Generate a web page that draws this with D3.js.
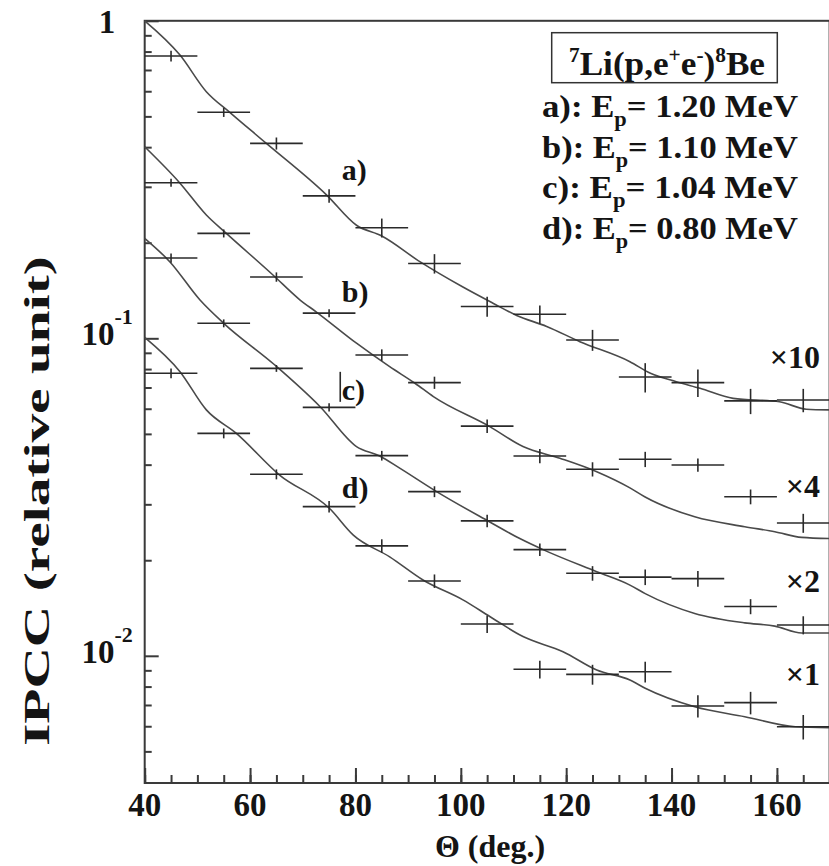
<!DOCTYPE html>
<html>
<head>
<meta charset="utf-8">
<script src="https://cdn.jsdelivr.net/npm/d3@7"></script>
<style>
  html, body { margin: 0; padding: 0; background: #fff; }
  svg { display: block; }
  text { font-family: "Liberation Serif", "Times New Roman", serif; font-weight: bold; fill: #141414; }
</style>
</head>
<body>
<svg id="chart" width="829" height="866"></svg>
<script>
// Bin centres (deg.) and half-width of each angular bin
const theta = [45, 55, 65, 75, 85, 95, 105, 115, 125, 135, 145, 155, 165];
const binHalfWidth = 5;

// Measured IPCC (relative unit), already multiplied by x10, x4, x2, x1
const ipccA = [0.775, 0.515, 0.411, 0.281, 0.223, 0.172, 0.126, 0.119, 0.0988, 0.0755, 0.0725, 0.0635, 0.0639];
const errA  = [0.030, 0.017, 0.018, 0.0136, 0.0153, 0.0121, 0.0091, 0.0078, 0.0075, 0.0080, 0.0072, 0.0058, 0.0054];
const ipccB = [0.309, 0.214, 0.156, 0.120, 0.0886, 0.0725, 0.0529, 0.0426, 0.0387, 0.0416, 0.0399, 0.0317, 0.0262];
const errB  = [0.0090, 0.0062, 0.0053, 0.0035, 0.0037, 0.0032, 0.0026, 0.0022, 0.0020, 0.0023, 0.0019, 0.0017, 0.0018];
const ipccC = [0.179, 0.1115, 0.0804, 0.0606, 0.0427, 0.0329, 0.0266, 0.0216, 0.0182, 0.0177, 0.0175, 0.0143, 0.0125];
const errC  = [0.0059, 0.0032, 0.0020, 0.0018, 0.0015, 0.0013, 0.0012, 0.00099, 0.00096, 0.0010, 0.0010, 0.00078, 0.00082];
const ipccD = [0.0776, 0.0502, 0.0373, 0.0295, 0.0222, 0.0172, 0.0126, 0.00907, 0.00874, 0.00891, 0.00695, 0.00712, 0.00598];
const errD  = [0.0028, 0.0018, 0.00135, 0.00124, 0.00108, 0.00084, 0.00080, 0.00058, 0.00063, 0.00067, 0.00056, 0.00058, 0.00053];

// Simulated IPCC curves (angle, value)
const simThetaA = [40, 46.7, 51.7, 56.2, 63.1, 74.5, 80.2, 85, 92.3, 100.4, 106.1, 110.6, 116.3, 122.6, 132.1, 136, 140.9, 145.4, 151.7, 160.5, 165.6, 170];
const simA      = [1.0, 0.780, 0.598, 0.514, 0.411, 0.283, 0.227, 0.210, 0.174, 0.145, 0.129, 0.118, 0.109, 0.0976, 0.0844, 0.0776, 0.0730, 0.0696, 0.0647, 0.0631, 0.0598, 0.0595];
const simThetaB = [40, 46.7, 51.7, 55.5, 64.4, 69.5, 72.6, 80.2, 86.5, 91.3, 94.8, 105.5, 111.8, 118.8, 125.8, 132.1, 134.9, 144.4, 153.9, 159.6, 164.7, 170];
const simB      = [0.401, 0.308, 0.2445, 0.214, 0.158, 0.132, 0.121, 0.0965, 0.0814, 0.0722, 0.0655, 0.0527, 0.0456, 0.0419, 0.0380, 0.0338, 0.0317, 0.0274, 0.0255, 0.0246, 0.0236, 0.0234];
const simThetaC = [40, 44.8, 50.5, 55, 64.7, 73.3, 80.2, 84.6, 88.4, 95.4, 105.5, 111.2, 115.6, 125.8, 132.1, 135, 144.4, 153.9, 159.6, 164.7, 170];
const simC      = [0.2065, 0.174, 0.132, 0.1115, 0.0824, 0.0609, 0.0456, 0.0426, 0.0390, 0.0329, 0.0264, 0.0234, 0.0216, 0.0184, 0.0167, 0.0157, 0.0136, 0.0127, 0.0124, 0.0118, 0.0118];
const simThetaD = [40, 46.7, 51.7, 57.4, 65.6, 75.1, 79.6, 86.5, 92.9, 100.4, 105.5, 111.8, 119.4, 125.8, 132.1, 135, 144.4, 153.9, 163.5, 170];
const simD      = [0.1007, 0.0785, 0.0595, 0.0502, 0.0371, 0.0291, 0.0240, 0.0205, 0.0173, 0.0150, 0.0133, 0.0115, 0.0103, 0.00902, 0.00839, 0.00790, 0.00691, 0.00643, 0.00598, 0.00594];

// Axis ticks
const xMajorTicks = [40, 60, 80, 100, 120, 140, 160];
const xMinorTicks = d3.range(40, 171, 5);
const yMajorTicks = [0.01, 0.1, 1];
const yMinorTicks = [0.005, 0.006, 0.007, 0.008, 0.009,
                     0.02, 0.03, 0.04, 0.05, 0.06, 0.07, 0.08, 0.09,
                     0.2, 0.3, 0.4, 0.5, 0.6, 0.7, 0.8, 0.9];

// Annotations
const legendTitle = "Li(p,e";
const legendRows = [
  { tag: "a): E", sub: "p", rest: "= 1.20 MeV" },
  { tag: "b): E", sub: "p", rest: "= 1.10 MeV" },
  { tag: "c): E", sub: "p", rest: "= 1.04 MeV" },
  { tag: "d): E", sub: "p", rest: "= 0.80 MeV" }
];
const curveTags   = [{ t: "a)", th: 77.4, v: 0.315 }, { t: "b)", th: 77.4, v: 0.130 },
                     { t: "c)", th: 77.4, v: 0.064 }, { t: "d)", th: 77.4, v: 0.0314 }];
const scaleTags   = [{ t: "\u00d710", v: 0.0804 }, { t: "\u00d74", v: 0.0317 },
                     { t: "\u00d72", v: 0.0159 }, { t: "\u00d71", v: 0.00809 }];

const svg = d3.select("#chart");
const plotLeft = 144.7, plotRight = 829.6, plotTop = 20.8, plotBottom = 783;

const x = d3.scaleLinear().domain([40, 170]).range([plotLeft, plotRight]);
const y = d3.scaleLog().domain([Math.pow(10, -2.4006), 1]).range([plotBottom, plotTop]);

const ink = "#2a2a2a";

// Frame
svg.append("rect")
  .attr("x", plotLeft).attr("y", plotTop)
  .attr("width", plotRight - plotLeft).attr("height", plotBottom - plotTop)
  .attr("fill", "none").attr("stroke", "#3a3a3a").attr("stroke-width", 2);

// Axes with inward ticks
const gx = svg.append("g").attr("transform", `translate(0,${plotBottom})`);
gx.call(d3.axisBottom(x).tickValues(xMinorTicks).tickSize(-8).tickFormat(""));
gx.append("g").call(d3.axisBottom(x).tickValues(xMajorTicks).tickSize(-15).tickFormat(""));
gx.selectAll("path.domain").remove();
gx.selectAll("line").attr("stroke", "#3a3a3a").attr("stroke-width", 2);

const gy = svg.append("g").attr("transform", `translate(${plotLeft},0)`);
gy.call(d3.axisLeft(y).tickValues(yMinorTicks).tickSize(-7).tickFormat(""));
gy.append("g").call(d3.axisLeft(y).tickValues(yMajorTicks).tickSize(-14).tickFormat(""));
gy.selectAll("path.domain").remove();
gy.selectAll("line").attr("stroke", "#3a3a3a").attr("stroke-width", 2);

// X tick labels
svg.append("g").selectAll("text").data(xMajorTicks).join("text")
  .attr("x", d => x(d)).attr("y", 816)
  .attr("text-anchor", "middle").attr("font-size", 33)
  .text(d => d);

// Y tick labels
svg.append("text").attr("x", 107).attr("y", 33).attr("text-anchor", "middle")
  .attr("font-size", 33).text("1");
[0.1, 0.01].forEach(v => {
  const t = svg.append("text").attr("x", 81.5).attr("y", y(v) + 7).attr("font-size", 33);
  t.append("tspan").text("10");
  t.append("tspan").attr("font-size", 22).attr("dy", -21).text(v === 0.1 ? "-1" : "-2");
});

// Axis titles
svg.append("text").attr("x", 490).attr("y", 857).attr("text-anchor", "middle")
  .attr("font-size", 32).text("\u0398 (deg.)");
svg.append("text").attr("transform", "translate(49,501) rotate(-90)")
  .attr("text-anchor", "middle").attr("font-size", 36)
  .attr("textLength", 490).attr("lengthAdjust", "spacingAndGlyphs")
  .text("IPCC (relative unit)");

// Simulation curves
const line = d3.line().x(d => x(d[0])).y(d => y(d[1])).curve(d3.curveMonotoneX);
[[simThetaA, simA], [simThetaB, simB], [simThetaC, simC], [simThetaD, simD]].forEach(([th, v]) => {
  svg.append("path")
    .datum(th.map((t, i) => [t, v[i]]))
    .attr("d", line)
    .attr("fill", "none").attr("stroke", "#4a4a4a").attr("stroke-width", 1.6);
});

// Data points with error bars
[[ipccA, errA], [ipccB, errB], [ipccC, errC], [ipccD, errD]].forEach(([vals, errs]) => {
  const g = svg.append("g").attr("stroke", ink).attr("stroke-width", 1.6);
  theta.forEach((t, i) => {
    g.append("line").attr("x1", x(t - binHalfWidth)).attr("x2", x(t + binHalfWidth))
      .attr("y1", y(vals[i])).attr("y2", y(vals[i]));
    g.append("line").attr("x1", x(t)).attr("x2", x(t))
      .attr("y1", y(vals[i] - errs[i])).attr("y2", y(vals[i] + errs[i]));
  });
});

// Curve tags and scale factors
svg.append("g").selectAll("text").data(curveTags).join("text")
  .attr("x", d => x(d.th)).attr("y", d => y(d.v))
  .attr("font-size", 30).text(d => d.t);
// small vertical stroke printed in front of the "c)" tag
const cTag = curveTags[2];
svg.append("line")
  .attr("x1", x(cTag.th) - 1.5).attr("x2", x(cTag.th) - 1.5)
  .attr("y1", y(cTag.v) - 28).attr("y2", y(cTag.v) + 2)
  .attr("stroke", ink).attr("stroke-width", 1.6);
svg.append("g").selectAll("text").data(scaleTags).join("text")
  .attr("x", 820).attr("y", d => y(d.v)).attr("text-anchor", "end")
  .attr("font-size", 32).text(d => d.t);

// Legend
svg.append("rect").attr("x", 551.7).attr("y", 32.7).attr("width", 225.6).attr("height", 50)
  .attr("fill", "none").attr("stroke", "#333").attr("stroke-width", 1.5);
const lt = svg.append("text").attr("x", 569).attr("y", 75).attr("font-size", 33)
  .attr("textLength", 196).attr("lengthAdjust", "spacingAndGlyphs");
lt.append("tspan").attr("font-size", 20).attr("dy", -13).text("7");
lt.append("tspan").attr("dy", 13).text(legendTitle);
lt.append("tspan").attr("font-size", 20).attr("dy", -13).text("+");
lt.append("tspan").attr("dy", 13).text("e");
lt.append("tspan").attr("font-size", 20).attr("dy", -13).text("-");
lt.append("tspan").attr("dy", 13).text(")");
lt.append("tspan").attr("font-size", 20).attr("dy", -13).text("8");
lt.append("tspan").attr("dy", 13).text("Be");

legendRows.forEach((r, i) => {
  const t = svg.append("text").attr("x", 542).attr("y", 117 + i * 40.5).attr("font-size", 31)
    .attr("textLength", 256).attr("lengthAdjust", "spacingAndGlyphs");
  t.append("tspan").text(r.tag);
  t.append("tspan").attr("font-size", 20).attr("dy", 9).text(r.sub);
  t.append("tspan").attr("dy", -9).text(r.rest);
});
</script>
</body>
</html>
